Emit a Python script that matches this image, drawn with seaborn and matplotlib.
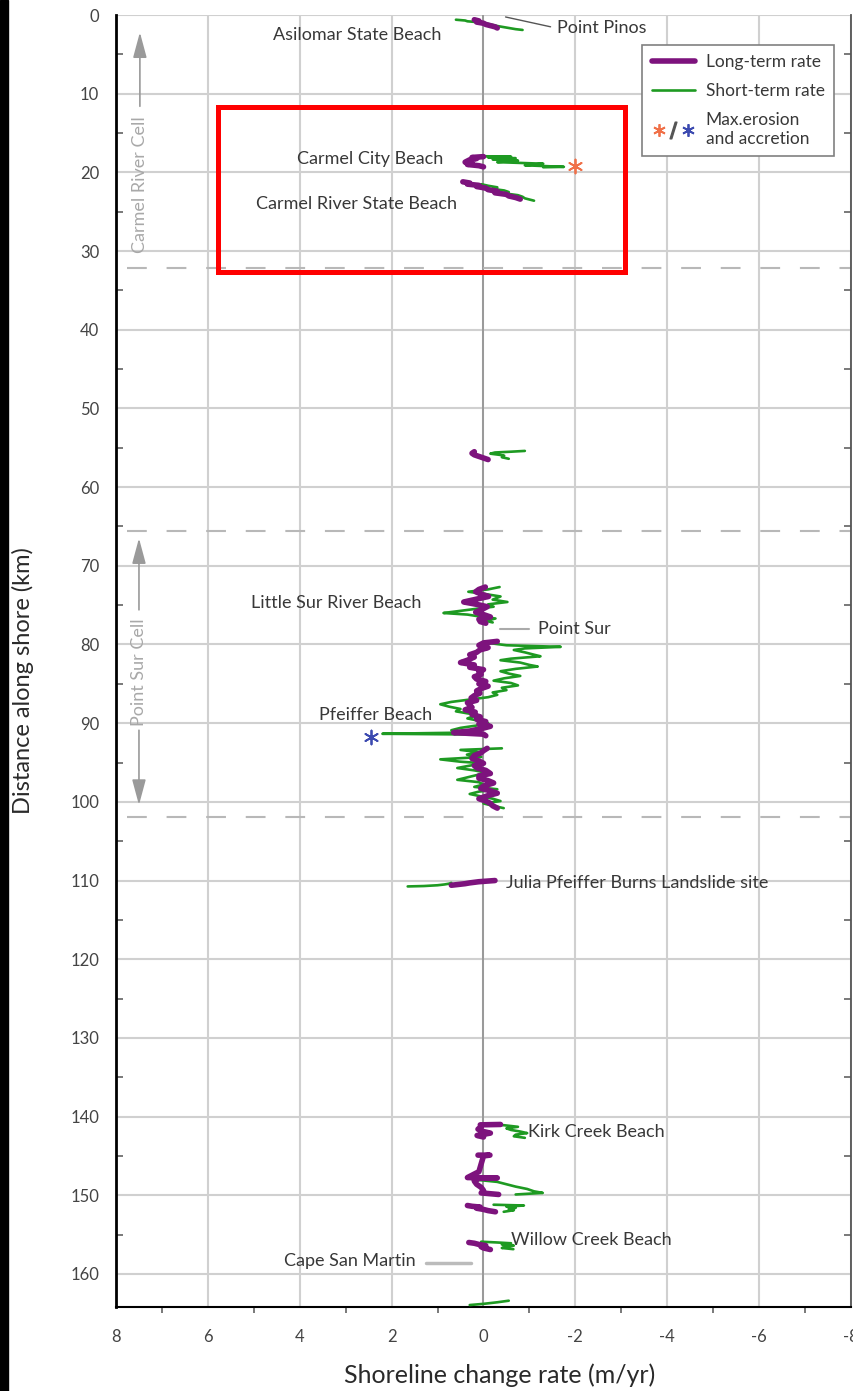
import numpy as np
import pandas as pd
import matplotlib
matplotlib.use("Agg")
import matplotlib.pyplot as plt
import seaborn as sns
from matplotlib.lines import Line2D
from matplotlib.patches import Rectangle
from matplotlib.legend_handler import HandlerTuple
from matplotlib.ticker import MultipleLocator

# ---------------- data ----------------
# Short-term rate (green): segment id, distance along shore (km), rate (m/yr)
short_seg = ([1]*10 + [2]*11 + [3]*11 + [4]*8 + [5]*17 + [6]*43 + [7]*27 +
             [8]*6 + [9]*10 + [10]*9 + [11]*7 + [12]*8 + [13]*4)
short_km = [0.6, 0.7, 0.8, 0.9, 1.0, 1.2, 1.4, 1.6, 1.8, 1.9,
            17.95, 18.0, 18.1, 18.2, 18.35, 18.5, 18.7, 18.9, 19.1, 19.3, 19.35,
            21.5, 21.7, 21.9, 22.1, 22.3, 22.5, 22.7, 22.9, 23.1, 23.3, 23.6,
            55.4, 55.5, 55.6, 55.75, 55.9, 56.0, 56.2, 56.4,
            72.7, 73.0, 73.3, 73.6, 73.9, 74.3, 74.6, 74.9, 75.2, 75.5, 75.8, 76.0, 76.2, 76.4, 76.7, 77.0, 77.2,
            79.8, 80.1, 80.3, 80.5, 80.7, 81.0, 81.3, 81.5, 81.8, 82.0, 82.3, 82.6, 82.8, 83.1, 83.4, 83.7,
            84.0, 84.3, 84.6, 84.9, 85.2, 85.5, 85.8, 86.1, 86.4, 86.7, 87.0, 87.3, 87.6, 87.9, 88.2, 88.5,
            88.8, 89.1, 89.4, 89.7, 90.0, 90.3, 90.6, 90.9, 91.2, 91.35, 91.45,
            93.2, 93.4, 93.7, 94.0, 94.3, 94.6, 94.9, 95.1, 95.4, 95.7, 96.0, 96.3, 96.6, 96.9, 97.2, 97.5,
            97.8, 98.1, 98.4, 98.7, 99.0, 99.3, 99.6, 99.9, 100.2, 100.5, 100.8,
            110.75, 110.7, 110.6, 110.5, 110.4, 110.3,
            141.0, 141.1, 141.3, 141.5, 141.7, 141.9, 142.1, 142.3, 142.5, 142.7,
            147.8, 148.0, 148.3, 148.6, 148.9, 149.2, 149.5, 149.7, 149.9,
            151.2, 151.3, 151.45, 151.6, 151.75, 151.9, 152.1,
            155.9, 156.0, 156.1, 156.25, 156.4, 156.55, 156.7, 156.85,
            163.4, 163.6, 163.8, 163.95]
short_rate = [0.6, 0.4, 0.35, 0.15, 0.0, -0.15, -0.3, -0.5, -0.7, -0.85,
              0.0, -0.6, -0.1, -0.7, -0.2, -0.75, -0.3, -1.3, -0.9, -1.75, -1.3,
              0.05, -0.1, -0.3, -0.2, -0.45, -0.55, -0.5, -0.75, -0.85, -0.9, -1.1,
              -0.9, -0.6, -0.25, -0.15, -0.35, -0.45, -0.4, -0.55,
              -0.35, -0.1, 0.33, -0.05, -0.37, -0.2, -0.52, -0.1, -0.22, 0.2, 0.6, 0.87, 0.35, 0.13, -0.26, -0.05, -0.2,
              -0.1, -0.5, -1.68, -0.9, -0.66, -0.9, -1.1, -1.24, -0.6, -0.37, -0.8, -1.0, -1.18, -0.7, -0.37, -0.55,
              -0.8, -0.45, -0.22, -0.6, -0.75, -0.4, -0.5, -0.2, -0.3, -0.1, 0.3, 0.7, 0.94, 0.75, 0.5, 0.6,
              0.3, 0.2, 0.35, 0.1, -0.1, 0.15, 0.5, 0.7, 0.4, 2.2, 0.0,
              -0.4, 0.5, 0.1, 0.36, 0.05, 0.94, 0.5, 0.0, 0.3, 0.57, 0.2, -0.08, 0.15, 0.36, 0.57, 0.1,
              0.0, 0.2, -0.3, 0.1, 0.3, 0.06, -0.2, -0.37, 0.0, -0.2, -0.44,
              1.65, 1.3, 1.0, 0.85, 0.75, 0.7,
              -0.1, -0.45, -0.75, -0.5, -0.6, -0.8, -0.95, -0.7, -0.66, -0.9,
              0.35, 0.2, -0.3, -0.5, -0.7, -0.95, -1.1, -1.29, -0.7,
              -0.22, -0.88, -0.5, -0.7, -0.55, -0.66, -0.44,
              0.05, -0.3, -0.6, -0.4, -0.66, -0.5, -0.4, -0.65,
              -0.55, -0.3, 0.0, 0.3]

# Long-term rate (purple)
long_seg = ([1]*8 + [2]*10 + [3]*13 + [4]*6 + [5]*16 + [6]*42 + [7]*25 +
            [8]*6 + [9]*8 + [10]*14 + [11]*7 + [12]*7)
long_km = [0.6, 0.75, 0.9, 1.05, 1.2, 1.35, 1.5, 1.65,
           18.0, 18.1, 18.25, 18.4, 18.55, 18.7, 18.85, 19.0, 19.15, 19.3,
           21.2, 21.35, 21.5, 21.65, 21.8, 22.0, 22.2, 22.4, 22.6, 22.8, 23.0, 23.2, 23.4,
           55.5, 55.7, 55.9, 56.1, 56.3, 56.5,
           72.7, 73.0, 73.3, 73.6, 73.9, 74.3, 74.6, 74.9, 75.2, 75.6, 75.9, 76.2, 76.5, 76.8, 77.1, 77.3,
           79.6, 79.8, 80.1, 80.4, 80.7, 81.0, 81.3, 81.6, 82.0, 82.3, 82.6, 82.9, 83.2, 83.5, 83.8, 84.1,
           84.4, 84.7, 85.0, 85.3, 85.6, 85.9, 86.2, 86.5, 86.8, 87.1, 87.4, 87.7, 88.0, 88.3, 88.6, 88.9,
           89.2, 89.5, 89.8, 90.1, 90.4, 90.7, 91.0, 91.2, 91.4, 91.6,
           93.2, 93.5, 93.8, 94.1, 94.5, 94.8, 95.1, 95.4, 95.7, 96.0, 96.4, 96.7, 97.0, 97.3, 97.6, 98.0,
           98.3, 98.6, 98.9, 99.2, 99.6, 99.9, 100.2, 100.5, 100.8,
           110.6, 110.5, 110.4, 110.3, 110.15, 110.0,
           141.0, 141.05, 141.3, 141.6, 141.9, 142.1, 142.4, 142.6,
           144.9, 144.9, 145.0, 146.0, 147.0, 147.75, 147.8, 147.85, 148.2, 148.6, 149.0, 149.4, 149.7, 149.9,
           151.3, 151.4, 151.5, 151.65, 151.8, 151.95, 152.1,
           156.0, 156.1, 156.25, 156.4, 156.55, 156.7, 156.9]
long_rate = [0.2, 0.1, 0.15, 0.0, -0.05, -0.15, -0.25, -0.3,
             0.0, 0.25, 0.15, 0.3, 0.35, 0.4, 0.25, 0.35, 0.1, 0.0,
             0.45, 0.3, 0.35, 0.1, 0.15, -0.05, -0.1, -0.3, -0.25, -0.5, -0.55, -0.7, -0.8,
             0.2, 0.25, 0.2, 0.1, 0.0, -0.1,
             -0.04, 0.1, 0.17, 0.05, -0.11, 0.2, 0.43, 0.15, -0.08, 0.05, 0.17, 0.0, -0.15, 0.1, 0.07, -0.05,
             -0.3, 0.0, 0.1, -0.1, 0.08, 0.15, 0.3, 0.2, 0.35, 0.5, 0.2, 0.3, 0.0, 0.1, 0.05, 0.2,
             0.15, -0.05, 0.1, -0.1, 0.05, 0.15, 0.08, 0.2, 0.27, 0.15, 0.35, 0.3, 0.25, 0.4, 0.18, 0.25,
             0.07, 0.15, -0.05, 0.1, -0.15, 0.05, 0.3, 0.65, 0.0, -0.05,
             -0.08, 0.0, 0.06, 0.2, 0.25, 0.1, 0.0, 0.2, 0.14, -0.05, -0.15, 0.1, 0.1, -0.1, -0.22, 0.0,
             0.06, -0.15, -0.3, -0.1, 0.1, -0.05, -0.15, -0.2, -0.3,
             0.7, 0.55, 0.4, 0.3, 0.1, -0.25,
             -0.37, 0.07, 0.05, 0.12, 0.0, -0.15, 0.14, 0.0,
             0.12, -0.14, 0.0, 0.05, 0.1, 0.35, -0.3, 0.1, 0.2, 0.15, 0.05, 0.0, 0.05, -0.33,
             0.35, 0.25, 0.07, 0.15, 0.0, -0.1, -0.26,
             0.32, 0.2, 0.1, -0.05, 0.05, 0.0, -0.15]

# Maximum erosion / accretion points
max_erosion_rate, max_erosion_km = [-2.0], [19.2]
max_accretion_rate, max_accretion_km = [2.44], [91.7]

# Place labels
place_names = ["Asilomar State Beach", "Point Pinos", "Carmel City Beach",
               "Carmel River State Beach", "Little Sur River Beach", "Point Sur",
               "Pfeiffer Beach", "Julia Pfeiffer Burns Landslide site",
               "Kirk Creek Beach", "Willow Creek Beach", "Cape San Martin"]
place_rate = [2.75, -1.61, 2.46, 2.77, 3.2, -1.18, 2.35, -0.48, -0.96, -0.59, 1.48]
place_km = [2.5, 1.7, 18.3, 24.0, 74.7, 78.0, 88.9, 110.3, 141.9, 155.7, 158.4]
place_ha = ["center", "left", "center", "center", "center", "left",
            "center", "left", "left", "left", "right"]

cell_boundaries_km = [32.15, 65.6, 101.9]

x_ticks = [8, 6, 4, 2, 0, -2, -4, -6, -8]
y_ticks = list(range(0, 161, 10))

# ---------------- styling ----------------
sns.set_theme(style="white")
plt.rcParams["font.family"] = ["Lato", "DejaVu Sans"]
plt.rcParams["axes.unicode_minus"] = False

PURPLE = "#7d137d"
GREEN = "#1e9a22"
ORANGE = "#f07048"
BLUE = "#3c4ab0"
TXT = "#383838"

short_df = pd.DataFrame({"seg": short_seg, "km": short_km, "rate": short_rate})
long_df = pd.DataFrame({"seg": long_seg, "km": long_km, "rate": long_rate})

fig = plt.figure(figsize=(8.54, 13.91), dpi=100)
fig.patch.set_facecolor("white")
ax = fig.add_axes([116/854, 1 - 1307/1391, (851-116)/854, (1307-15)/1391])

# left black band of the original scan
fig.patches.append(Rectangle((0, 0), 8/854, 1, transform=fig.transFigure,
                             color="black", zorder=0))

ax.set_xlim(8, -8)
ax.set_ylim(164.2, 0)
ax.set_xticks(x_ticks)
ax.set_xticklabels([str(t) for t in x_ticks])
ax.set_yticks(y_ticks)
ax.xaxis.set_minor_locator(MultipleLocator(1))
ax.yaxis.set_minor_locator(MultipleLocator(5))
ax.grid(True, which="major", color="#d0d0d0", lw=1.5, zorder=0)
ax.axvline(0, color="#8a8a8a", lw=1.1, zorder=1)

# cell boundary dashed lines
ax.hlines(cell_boundaries_km, 7.75, -8, colors="#b8b8b8", linestyles=(0, (9.5, 9.5)),
          lw=1.5, zorder=1)

# data lines
sns.lineplot(data=short_df, x="rate", y="km", units="seg", estimator=None, sort=False,
             color=GREEN, lw=1.9, ax=ax, legend=False, zorder=3)
sns.lineplot(data=long_df, x="rate", y="km", units="seg", estimator=None, sort=False,
             color=PURPLE, lw=4.0, ax=ax, legend=False, zorder=4)

ast = (6, 2, 0)
sns.scatterplot(x=max_erosion_rate, y=max_erosion_km, marker=ast, s=100, color=ORANGE,
                linewidth=1.3, ax=ax, legend=False, zorder=5)
sns.scatterplot(x=max_accretion_rate, y=max_accretion_km, marker=ast, s=100, color=BLUE,
                linewidth=1.3, ax=ax, legend=False, zorder=5)

# leader lines
ax.plot([-0.48, -1.46], [0.25, 1.5], color="#555555", lw=1.0, zorder=2)
ax.plot([-0.37, -0.98], [78.0, 78.0], color="#aaaaaa", lw=1.5, zorder=2)
ax.plot([1.26, 0.28], [158.6, 158.6], color="#bbbbbb", lw=2.5, zorder=2)

for name, r, k, ha in zip(place_names, place_rate, place_km, place_ha):
    ax.text(r, k, name, ha=ha, va="center", fontsize=13, color=TXT, zorder=6)

# cell annotations
CELL = "#a8a8a8"
ax.text(7.48, 21.6, "Carmel River Cell", rotation=90, ha="center", va="center",
        fontsize=13, color=CELL)
ax.text(7.5, 83.5, "Point Sur Cell", rotation=90, ha="center", va="center",
        fontsize=13, color=CELL)
arr = dict(arrowstyle="-|>,head_length=1.3,head_width=0.35", color="#9a9a9a", lw=1.2,
           shrinkA=0, shrinkB=0)
ax.annotate("", xy=(7.48, 2.2), xytext=(7.48, 11.6), arrowprops=arr)
ax.annotate("", xy=(7.5, 66.5), xytext=(7.5, 75.6), arrowprops=arr)
ax.annotate("", xy=(7.5, 100.4), xytext=(7.5, 90.9), arrowprops=arr)

# red highlight box
ax.add_patch(Rectangle((5.78, 11.7), -3.07 - 5.78, 32.65 - 11.7, fill=False,
                       edgecolor="#ff0000", lw=3.6, zorder=7, clip_on=False))

# spines & ticks
ax.spines["top"].set_visible(False)
ax.spines["left"].set_color("black")
ax.spines["left"].set_linewidth(2.0)
ax.spines["bottom"].set_color("black")
ax.spines["bottom"].set_linewidth(1.5)
ax.spines["right"].set_color("#555555")
ax.spines["right"].set_linewidth(1.3)

ax.tick_params(axis="both", which="major", direction="out", length=6, width=1.2,
               color="black", labelcolor="#444444", labelsize=12)
ax.tick_params(axis="y", which="major", pad=6)
ax.tick_params(axis="x", which="major", pad=10)
ax.tick_params(axis="y", which="minor", left=True, right=True, direction="in",
               length=5, width=1.1, color="#555555")
ax.tick_params(axis="x", which="minor", bottom=True, direction="out", length=4,
               width=1.1, color="#555555")

ax.set_xlabel("Shoreline change rate (m/yr)", fontsize=18, color="#2a2a2a")
ax.set_ylabel("Distance along shore (km)", fontsize=17, color="#2a2a2a")
ax.xaxis.set_label_coords(0.522, -0.044)
ax.yaxis.set_label_coords(-0.112, 0.485)

# legend
h_long = Line2D([], [], color=PURPLE, lw=4.0)
h_short = Line2D([], [], color=GREEN, lw=1.9)
h_ero = Line2D([], [], ls="none", marker=ast, color=ORANGE, ms=9, mew=1.3)
h_sl = Line2D([], [], ls="none", marker="$/$", color="#555555", ms=12)
h_acc = Line2D([], [], ls="none", marker=ast, color=BLUE, ms=9, mew=1.3)
leg = ax.legend([h_long, h_short, (h_ero, h_sl, h_acc)],
                ["Long-term rate", "Short-term rate", "Max.erosion\nand accretion"],
                handler_map={tuple: HandlerTuple(ndivide=None, pad=0.0)},
                loc="upper right", bbox_to_anchor=(0.977, 0.977), borderaxespad=0,
                frameon=True, fancybox=False, edgecolor="#808080", framealpha=1,
                fontsize=12.5, handlelength=2.5, handletextpad=0.6, labelspacing=0.75,
                borderpad=0.55)
leg.get_frame().set_linewidth(1.2)
for t in leg.get_texts():
    t.set_color(TXT)
leg.set_zorder(8)

fig.savefig("out.png", dpi=100, facecolor="white")
